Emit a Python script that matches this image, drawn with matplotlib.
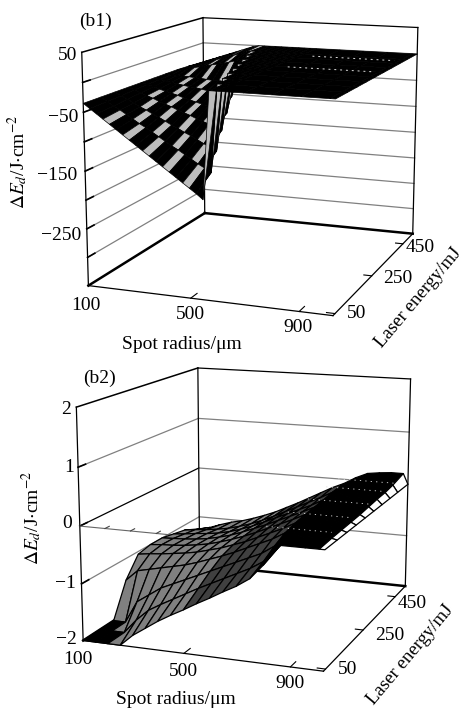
import numpy as np
import matplotlib
matplotlib.use('Agg')
import matplotlib.pyplot as plt
from matplotlib.colors import to_rgba

plt.rcParams['font.family'] = ['Liberation Serif', 'DejaVu Sans']
plt.rcParams['mathtext.fontset'] = 'stix'

W, H = 466, 712

R1 = [100, 125, 150, 175, 200, 225, 250, 275, 300, 325, 350, 375, 400, 425, 450, 475, 500, 525, 550, 575, 600, 700, 800, 900, 1000, 1020]
E1 = [40, 100, 150, 200, 250, 300, 350, 400, 450, 520]
Z1 = [
    [-35, -43, -51, -59, -67, -75, -83, -91, -99, -107, -115, -123, -131, -139, -147, -155, -163, -171, -180, 0, 0, 0, 0, 0, 0, 0],
    [-35, -42, -49, -55, -62, -69, -76, -82, -89, -96, -103, -110, -116, -123, -130, -137, -143, -150, 0, 0, 0, 0, 0, 0, 0, 0],
    [-35, -41, -46, -52, -58, -63, -69, -74, -80, -86, -91, -97, -102, -108, -114, -119, -125, 0, 0, 0, 0, 0, 0, 0, 0, 0],
    [-35, -39, -44, -48, -52, -57, -61, -65, -70, -74, -78, -83, -87, -91, -96, -100, 0, 0, 0, 0, 0, 0, 0, 0, 0, 0],
    [-35, -38, -41, -45, -48, -51, -54, -58, -61, -64, -67, -70, -74, -77, -80, 0, 0, 0, 0, 0, 0, 0, 0, 0, 0, 0],
    [-35, -37, -39, -41, -43, -45, -47, -48, -50, -52, -54, -56, -58, -60, 0, 0, 0, 0, 0, 0, 0, 0, 0, 0, 0, 0],
    [-35, -36, -37, -38, -38, -39, -40, -41, -42, -42, -43, -44, -45, 0, 0, 0, 0, 0, 0, 0, 0, 0, 0, 0, 0, 0],
    [-35, -33, -31, -29, -27, -25, -22, -20, -18, -15, -12, -8, 0, 0, 0, 0, 0, 0, 0, 0, 0, 0, 0, 0, 0, 0],
    [-36, -33, -30, -27, -24, -20, -17, -14, -10, -6, -3, 0, 0, 0, 0, 0, 0, 0, 0, 0, 0, 0, 0, 0, 0, 0],
    [-38, -34, -30, -26, -22, -18, -14, -10, -6, -2, 0, 0, 0, 0, 0, 0, 0, 0, 0, 0, 0, 0, 0, 0, 0, 0],
]
R2 = [100, 150, 200, 250, 300, 350, 400, 450, 500, 550, 600, 650, 700, 750, 800, 850, 900, 950, 1000, 1020]
E2 = [40, 100, 150, 200, 250, 300, 350, 400, 450, 520]
Z2 = [
    [-2, -2, -2, -2, -1.8, -1.65, -1.5, -1.37, -1.25, -1.12, -1.0, -.87, -.75, -.6, -.35, 0, 0, 0, 0, 0],
    [-2, -2, -2, -1.75, -1.55, -1.42, -1.3, -1.18, -1.06, -.95, -.84, -.73, -.62, -.48, -.25, .01, .01, .01, .02, 0],
    [-2, -2, -1.6, -1.45, -1.3, -1.2, -1.1, -1.0, -.9, -.8, -.7, -.6, -.5, -.35, -.15, .03, .03, .03, .03, 0],
    [-1.4, -1.2, -1.15, -1.1, -1.05, -1, -.93, -.85, -.77, -.68, -.58, -.48, -.38, -.25, -.1, .04, .04, .04, .04, 0],
    [-1.05, -1.02, -1, -.97, -.94, -.9, -.84, -.78, -.7, -.62, -.52, -.42, -.32, -.2, -.07, .05, .05, .05, .05, 0],
    [-1, -.98, -.97, -.95, -.92, -.88, -.82, -.75, -.67, -.58, -.48, -.38, -.28, -.17, -.05, .07, .07, .07, .07, 0],
    [-1, -.99, -.98, -.96, -.93, -.88, -.82, -.74, -.65, -.56, -.46, -.36, -.26, -.15, -.03, .09, .09, .09, .09, 0],
    [-1.05, -1.03, -1, -.98, -.95, -.9, -.83, -.75, -.65, -.55, -.45, -.35, -.25, -.13, -.02, .1, .1, .1, .1, 0],
    [-1.1, -1.07, -1.05, -1.02, -.98, -.92, -.85, -.76, -.66, -.55, -.44, -.33, -.22, -.1, .02, .12, .13, .13, .13, 0],
    [-1.25, -1.2, -1.12, -1.05, -1, -.93, -.85, -.76, -.65, -.54, -.42, -.3, -.18, -.08, .05, .15, .18, .2, .2, 0],
]

xlim = (100, 1020)
ylim = (40, 520)
zlim1 = (-350, 50)
zlim2 = (-2, 2)
zgrid1 = [0, -50, -100, -150, -200, -250, -300]
zgrid2 = [1, 0, -1]
xticks = [100, 500, 900]
xminor2 = [200, 300, 400]
yticks = [50, 250, 450]
plateau_dash1 = [300, 430]
plateau_dash2 = [100, 200, 300, 400, 470]

# view: elev, azim, focal length, box x, box y, zoom, shift x, shift y (pixels)
view1 = [12.38, -69.40, 0.54, 1.09, 1.27, 0.91, 21.59, -21.23]
view2 = [13.19, -69.28, 0.56, 1.07, 1.27, 0.91, 14.87, -23.82]

fig = plt.figure(figsize=(W / 100, H / 100), dpi=100)
fig.patch.set_facecolor('white')


def make_ax(p, yc, zl):
    ax = fig.add_axes([p[6] / W, (H - yc - W / 2 - p[7]) / H, 1, W / H], projection='3d', computed_zorder=False)
    ax.set_axis_off()
    ax.patch.set_alpha(0)
    ax.set_xlim(*xlim)
    ax.set_ylim(*ylim)
    ax.set_zlim(*zl)
    ax.view_init(p[0], p[1])
    ax.set_proj_type('persp', focal_length=p[2])
    ax.set_box_aspect((p[3], p[4], 1), zoom=p[5])
    return ax


def frame(ax, zl, zgrid, heavy):
    x0, x1 = xlim
    y0, y1 = ylim
    z0, z1 = zl
    for z in zgrid:
        c = 'k' if z in heavy else '#808080'
        ax.plot([x0, x0], [y0, y1], [z, z], color=c, lw=0.9, zorder=1)
        ax.plot([x0, x1], [y1, y1], [z, z], color='#808080', lw=0.9, zorder=1)
        ax.plot([x0, x0], [y0, y0 + 25], [z, z], color='k', lw=1.2, zorder=1)
    ax.plot([x0, x0], [y0, y1], [z1, z1], color='k', lw=1.1, zorder=1)
    ax.plot([x0, x1], [y1, y1], [z1, z1], color='k', lw=0.9, zorder=1)
    for x, y in [(x0, y0), (x0, y1), (x1, y1)]:
        ax.plot([x, x], [y, y], [z0, z1], color='k', lw=0.9, zorder=1)
    ax.plot([x0, x0], [y0, y1], [z0, z0], color='k', lw=1.8, zorder=1)
    ax.plot([x0, x1], [y1, y1], [z0, z0], color='k', lw=1.8, zorder=1)
    ax.plot([x0, x1], [y0, y0], [z0, z0], color='k', lw=0.9, zorder=1)
    ax.plot([x1, x1], [y0, y1], [z0, z0], color='k', lw=0.9, zorder=1)
    for x in xticks[1:]:
        ax.plot([x, x], [y0, y0 + 25], [z0, z0], color='k', lw=0.8, zorder=1)
    for y in yticks:
        ax.plot([x1, x1 - 30], [y, y], [z0, z0], color='k', lw=0.8, zorder=1)


def colors1(Z):
    Z = np.array(Z, float)
    fc = np.zeros((Z.shape[0] - 1, Z.shape[1] - 1, 4))
    for i in range(fc.shape[0]):
        for j in range(fc.shape[1]):
            flat = Z[i:i + 2, j:j + 2].max() == 0 and Z[i:i + 2, j:j + 2].min() == 0
            fc[i, j] = to_rgba('k' if flat or j < 3 or (i + j) % 3 else '#bdbdbd')
    return fc


def colors2(Z, R):
    Z = np.array(Z, float)
    fc = np.zeros((Z.shape[0] - 1, Z.shape[1] - 1, 4))
    for i in range(fc.shape[0]):
        for j in range(fc.shape[1]):
            if j == fc.shape[1] - 1:
                c = 'white'
            elif Z[i:i + 2, j:j + 2].max() == -2 or R[j] >= 750:
                c = 'k'
            elif R[j] >= 500:
                c = '#404040'
            else:
                c = '#808080'
            fc[i, j] = to_rgba(c)
    return fc


ax1 = make_ax(view1, 178, zlim1)
ax2 = make_ax(view2, 534, zlim2)

frame(ax1, zlim1, zgrid1, [])
frame(ax2, zlim2, zgrid2, [0])

X, Y = np.meshgrid(R1, E1)
ax1.plot_surface(X, Y, np.array(Z1, float), facecolors=colors1(Z1), edgecolor='k', linewidth=0.5,
                 rstride=1, cstride=1, shade=False, zorder=2)
for e in plateau_dash1:
    ax1.plot([650, 980], [e, e], [0, 0], color='#dddddd', lw=0.7, ls=(0, (2, 4)), zorder=3)

ax2.plot([100, 470], [40, 40], [0, 0], color='#666666', lw=0.8, zorder=1)
for x in xminor2:
    ax2.plot([x, x], [40, 55], [0, 0], color='#444444', lw=0.8, zorder=1)
X, Y = np.meshgrid(R2, E2)
ax2.plot_surface(X, Y, np.array(Z2, float), facecolors=colors2(Z2, R2), edgecolor='k', linewidth=0.9,
                 rstride=1, cstride=1, shade=False, zorder=2)
for e in plateau_dash2:
    ax2.plot([760, 1000], [e, e], [.12, .12], color='#dddddd', lw=0.6, ls=(0, (1.5, 5)), zorder=3)


def txt(x, y, s, **kw):
    kw.setdefault('ha', 'center')
    kw.setdefault('va', 'center')
    kw.setdefault('fontsize', 14)
    fig.text(x / W, 1 - y / H, s, **kw)


txt(95, 21, '(b1)')
txt(100, 378, '(b2)')
for x, y, s in [(86, 305, '100'), (190, 315, '500'), (298, 328, '900'), (357, 313, '50'), (398, 279, '250'), (420, 247, '450'),
                (78, 659, '100'), (183, 672, '500'), (290, 684, '900'), (348, 669, '50'), (390, 635, '250'), (412, 603, '450')]:
    txt(x, y, s)
for x, y, s in [(77, 55, '50'), (78, 117, '\u221250'), (77, 175, '\u2212150'), (81, 235, '\u2212250'),
                (71, 409, '2'), (74, 468, '1'), (72, 524, '0'), (76, 584, '\u22121'), (77, 639, '\u22122')]:
    txt(x, y, s, ha='right')
txt(182, 344, 'Spot radius/\u03bcm')
txt(176, 700, 'Spot radius/\u03bcm')
txt(418, 298, 'Laser energy/mJ', rotation=50, fontsize=13.5)
txt(410, 655, 'Laser energy/mJ', rotation=50, fontsize=13.5)
lab = r'$\Delta E_d$/J$\cdot$cm$^{-2}$'
txt(18, 162, lab, rotation=90)
txt(32, 518, lab, rotation=90)

fig.savefig('out.png', dpi=100)
